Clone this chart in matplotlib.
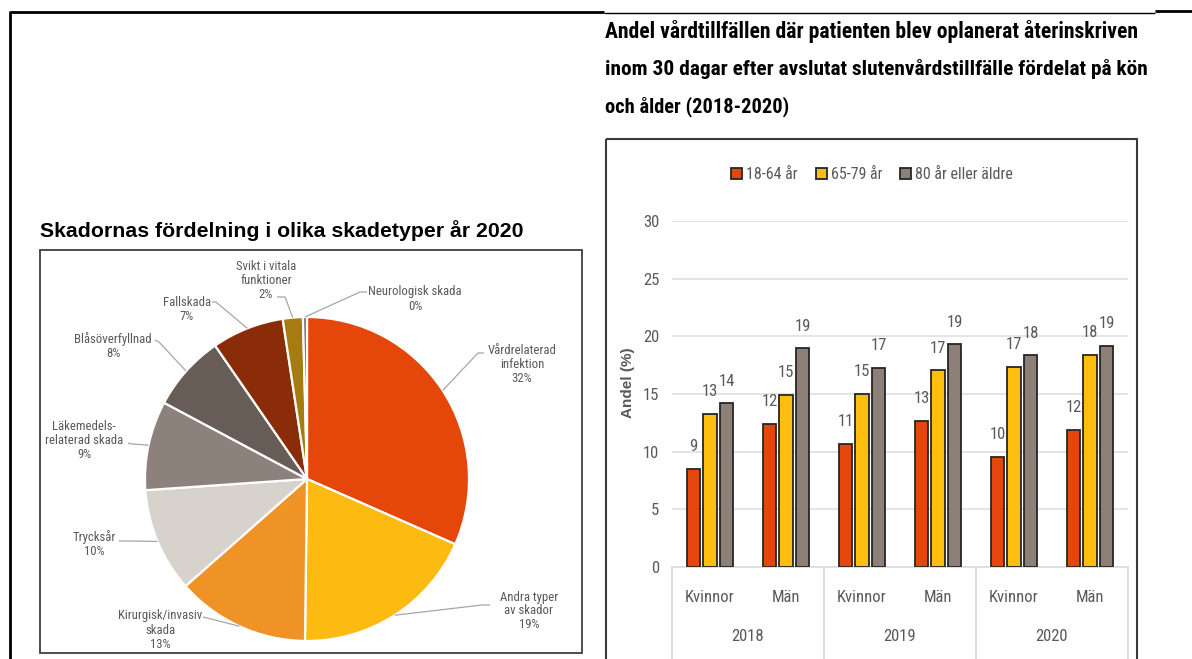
import numpy as np
import matplotlib
matplotlib.use("Agg")
import matplotlib.pyplot as plt
import matplotlib.font_manager as fm
from matplotlib.patches import Patch, Rectangle
from matplotlib.transforms import blended_transform_factory

# ---------------- data ----------------
pie_title = "Skadornas fördelning i olika skadetyper år 2020"
pie_labels = ["Vårdrelaterad\ninfektion", "Andra typer\nav skador", "Kirurgisk/invasiv\nskada",
              "Trycksår", "Läkemedels-\nrelaterad skada", "Blåsöverfyllnad", "Fallskada",
              "Svikt i vitala\nfunktioner", "Neurologisk skada"]
pie_values = [31.6, 18.6, 13.3, 10.4, 8.9, 7.6, 7.2, 2.0, 0.4]

bar_title = ["Andel vårdtillfällen där patienten blev oplanerat återinskriven",
             "inom 30 dagar efter avslutat slutenvårdstillfälle fördelat på kön",
             "och ålder (2018-2020)"]
sexes = ["Kvinnor", "Män", "Kvinnor", "Män", "Kvinnor", "Män"]
years = ["2018", "2019", "2020"]
series_names = ["18-64 år", "65-79 år", "80 år eller äldre"]
v_18_64 = [8.5, 12.4, 10.65, 12.7, 9.55, 11.9]
v_65_79 = [13.25, 14.9, 15.0, 17.05, 17.35, 18.4]
v_80plus = [14.2, 18.95, 17.25, 19.3, 18.35, 19.2]
y_ticks = [0, 5, 10, 15, 20, 25, 30]
y_label = "Andel (%)"

# ---------------- styles ----------------
pie_colors = ["#E5470B", "#FDBB12", "#EF9327", "#D8D2CD", "#8C827B", "#675C56",
              "#8B2C08", "#A67C10", "#6E7078"]
bar_colors = ["#E5470B", "#FDBE10", "#8C8078"]
GRAY_TXT = "#595959"

avail = {f.name for f in fm.fontManager.ttflist}
def pick(cands, default):
    for c in cands:
        if c in avail:
            return c
    return default
NARROW = pick(["Liberation Sans Narrow", "Roboto Condensed", "Open Sans Condensed", "Arial Narrow"],
              "Liberation Sans")
SANS = pick(["Liberation Sans", "Arial"], "DejaVu Sans")

W, H = 1192, 659
fig = plt.figure(figsize=(W / 100, H / 100), dpi=100)
fig.patch.set_facecolor("white")

def frac(x0, y0, x1, y1):
    # pixel box (top-left origin) -> figure fraction rect
    return [x0 / W, 1 - y1 / H, (x1 - x0) / W, (y1 - y0) / H]

# background axes in pixel coords
bg = fig.add_axes([0, 0, 1, 1], zorder=-5)
bg.set_xlim(0, W)
bg.set_ylim(H, 0)
bg.axis("off")
# outer frame lines
bg.plot([10, 604], [12, 12], color="black", lw=2.0, solid_capstyle="butt")
bg.plot([604, 1155], [13, 13], color="black", lw=1.0, solid_capstyle="butt")
bg.plot([1155, W], [11, 11], color="black", lw=2.0, solid_capstyle="butt")
bg.plot([10, 10], [11, H], color="black", lw=2.0, solid_capstyle="butt")
# chart boxes
bg.add_patch(Rectangle((40, 250), 542, 403, fill=False, edgecolor="#404040", lw=1.3))
bg.add_patch(Rectangle((605.5, 139), 531.5, 560, fill=False, edgecolor="#3A3A3A", lw=1.5))

renderer = fig.canvas.get_renderer()
def fit_width(t, target):
    w = t.get_window_extent(renderer).width
    t.set_fontsize(t.get_fontsize() * target / w)

# titles
t = bg.text(40, 231, pie_title, fontsize=13.5, fontweight="bold", family=SANS,
            color="black", ha="left", va="center")
fit_width(t, 480)
for txt, yb, wd in zip(bar_title, [38, 75, 112], [533, 542, 183]):
    t = bg.text(605, yb, txt, fontsize=16, fontweight="bold", family=NARROW,
                color="black", ha="left", va="baseline")
    fit_width(t, wd)

# ---------------- pie ----------------
axp = fig.add_axes(frac(40, 250, 582, 653))
cx, cy, R = 307, H - 479, 162
wedges, _ = axp.pie(pie_values, colors=pie_colors, startangle=90, counterclock=False,
                    center=(cx, cy), radius=R,
                    wedgeprops=dict(edgecolor="white", linewidth=1.6))
axp.set_aspect("auto")
axp.set_xlim(40, 582)
axp.set_ylim(H - 653, H - 250)
axp.axis("off")

# label layout: text centre, leader start, elbow (pixel coords, top-left origin)
label_layout = [
    ((522, 365), (484, 353), (478, 353)),
    ((529, 611), (490, 605), (482, 605)),
    ((160, 630), (203, 617), (207, 618)),
    ((94, 544), (119, 541), (130, 541)),
    ((84, 440), (128, 443), (132, 444)),
    ((113, 346), (155, 340), (159, 342)),
    ((187, 309), (212, 302), (216, 302)),
    ((266, 281), (277, 297), (285, 297)),
    ((415, 299), (367, 292), (360, 292)),
]
for w, lab, val, (tc, st, el) in zip(wedges, pie_labels, pie_values, label_layout):
    mid = np.deg2rad((w.theta1 + w.theta2) / 2)
    rx, ry = cx + R * np.cos(mid), cy + R * np.sin(mid)
    axp.plot([st[0], el[0], rx], [H - st[1], H - el[1], ry], color="#A6A6A6", lw=0.9,
             solid_capstyle="butt", zorder=1)
    axp.text(tc[0], H - tc[1], f"{lab}\n{int(np.floor(val + 0.5))}%", ha="center", va="center",
             fontsize=9.2, family=NARROW, color=GRAY_TXT, linespacing=1.1)

# ---------------- bars ----------------
axb = fig.add_axes(frac(672, 221, 1128, 567))
x = np.arange(len(sexes))
bw, off = 0.178, 0.217
for k, (vals, col, name) in enumerate(zip([v_18_64, v_65_79, v_80plus], bar_colors, series_names)):
    xs = x + (k - 1) * off
    axb.bar(xs, vals, width=bw, color=col, edgecolor="#262626", linewidth=1.3, zorder=3)
    for xi, v in zip(xs, vals):
        axb.annotate(str(int(np.floor(v + 0.5))), (xi, v), xytext=(0, 16), textcoords="offset points",
                     ha="center", va="center", fontsize=12, family=NARROW, color=GRAY_TXT)

axb.set_xlim(-0.5, len(sexes) - 0.5)
axb.set_ylim(0, 30)
axb.set_yticks(y_ticks)
axb.set_yticklabels([str(v) for v in y_ticks], fontsize=12, family=NARROW, color=GRAY_TXT)
axb.tick_params(axis="y", length=0, pad=9)
axb.set_xticks([])
for s in ["top", "right", "left"]:
    axb.spines[s].set_visible(False)
axb.spines["bottom"].set_color("#D9D9D9")
axb.spines["bottom"].set_linewidth(1.2)
axb.set_facecolor("none")
for v in y_ticks[1:]:
    axb.axhline(v, color="#DDDDDD", lw=1.1, zorder=1)

tr = blended_transform_factory(axb.transData, axb.transAxes)
for xs_ in [-0.5, 1.5, 3.5, 5.5]:
    axb.plot([xs_, xs_], [0, -0.3], transform=tr, color="#D9D9D9", lw=1.2, clip_on=False)
for i, s in enumerate(sexes):
    axb.text(i, -0.087, s, transform=tr, ha="center", va="center", fontsize=12,
             family=NARROW, color=GRAY_TXT)
for j, yr in enumerate(years):
    axb.text(2 * j + 0.5, -0.202, yr, transform=tr, ha="center", va="center", fontsize=12,
             family=NARROW, color=GRAY_TXT)

fig.text(628 / W, 1 - 383 / H, y_label, rotation=90, ha="center", va="center",
         fontsize=11, fontweight="bold", family=SANS, color=GRAY_TXT)

handles = [Patch(facecolor=c, edgecolor="#262626", linewidth=1.3) for c in bar_colors]
axb.legend(handles, series_names, loc="center", bbox_to_anchor=(872 / W, 1 - 175 / H),
           bbox_transform=fig.transFigure, ncol=3, frameon=False, handlelength=0.7,
           handleheight=0.7, handletextpad=0.25, columnspacing=1.1,
           prop=dict(family=NARROW, size=11.5), labelcolor=GRAY_TXT)

fig.savefig("out.png", dpi=100, facecolor="white")
